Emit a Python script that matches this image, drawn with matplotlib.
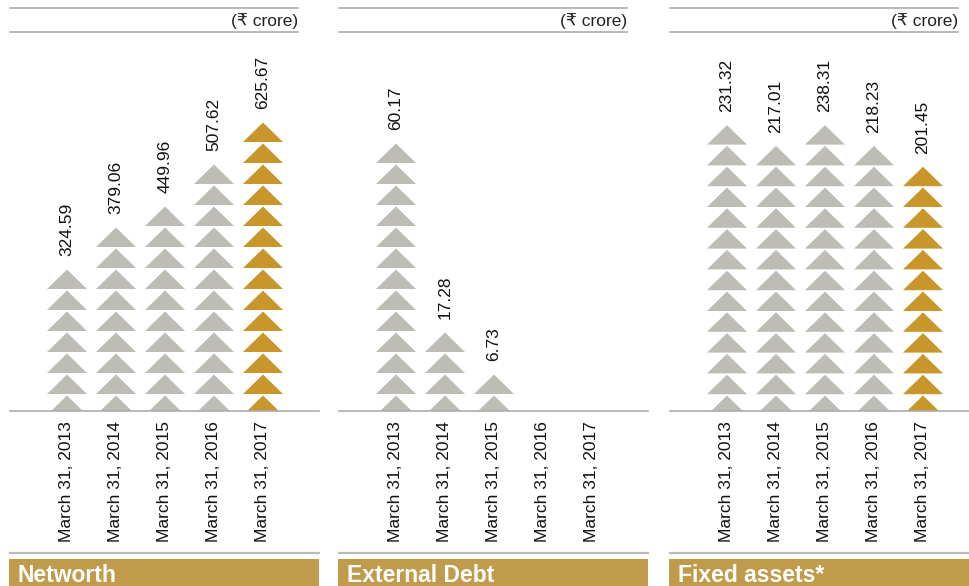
import matplotlib
matplotlib.use("Agg")
import matplotlib.pyplot as plt
from matplotlib.patches import Polygon, Rectangle
from matplotlib.lines import Line2D

plt.rcParams['font.family'] = ['Liberation Sans', 'DejaVu Sans']

# ---- data ----
categories = ["March 31, 2013", "March 31, 2014", "March 31, 2015",
              "March 31, 2016", "March 31, 2017"]
networth = [324.59, 379.06, 449.96, 507.62, 625.67]
external_debt = [60.17, 17.28, 6.73, 0, 0]
fixed_assets = [231.32, 217.01, 238.31, 218.23, 201.45]
titles = ["Networth", "External Debt", "Fixed assets*"]
unit_label = "(\u20b9 crore)"
# value represented by one triangle in each panel
icon_unit = [43.7, 4.47, 16.8]
highlight = [[False, False, False, False, True],
             [False, False, False, False, False],
             [False, False, False, False, True]]

# ---- style ----
W, H = 970, 586
GRAY = "#BDBDB6"
GOLD = "#C8962A"
BOX = "#BF9B4B"
LINE = "#ADADAD"
TXT = "#111111"

fig = plt.figure(figsize=(W / 100, H / 100), dpi=100)

def fx(px):
    return px / W

def fy(py):
    return 1 - py / H

panels = [networth, external_debt, fixed_assets]
lefts = [10, 339, 670]
pitch_px = [21.0, 21.0, 20.8]
base_px = 411
top_px = 40
panel_w = 309
first_off = 57
col_sp = 49
bottom_apex_px = 15.5   # apex of lowest (clipped) triangle above baseline
tri_h_px = 19.5
tri_w_px = 40.0

for k, (vals, L, u, pp) in enumerate(zip(panels, lefts, icon_unit, pitch_px)):
    s = pp / u  # px per value unit
    ax = fig.add_axes([fx(L), fy(base_px), fx(panel_w), (base_px - top_px) / H])
    ax.set_xlim(-first_off / col_sp, (panel_w - first_off) / col_sp)
    ax.set_ylim(0, (base_px - top_px) / s)
    for sp in ["top", "left", "right"]:
        ax.spines[sp].set_visible(False)
    ax.spines["bottom"].set_color(LINE)
    ax.spines["bottom"].set_linewidth(1.2)
    ax.set_yticks([])
    ax.set_xticks(range(len(categories)))
    ax.set_xticklabels(categories, rotation=90, fontsize=12.5, color=TXT,
                       ha="center", va="top")
    ax.tick_params(axis="x", length=0, pad=7)
    ax.patch.set_alpha(0)

    th = tri_h_px / s
    tw = tri_w_px / col_sp
    off = bottom_apex_px / s
    for i, v in enumerate(vals):
        n = int(round(v / u))
        if n <= 0:
            continue
        col = GOLD if highlight[k][i] else GRAY
        for j in range(n):
            y = off + j * u
            tri = Polygon([(i - tw / 2, y - th), (i + tw / 2, y - th), (i, y)],
                          closed=True, facecolor=col, edgecolor="none")
            ax.add_patch(tri)
        top = off + (n - 1) * u
        ax.annotate(f"{v:.2f}", xy=(i, top), xytext=(0, 9.4),
                    textcoords="offset points", rotation=90, ha="center",
                    va="bottom", fontsize=12.5, color=TXT, annotation_clip=False)

    # decorations: top rule lines and unit label
    for yy in (8, 32):
        fig.add_artist(Line2D([fx(L), fx(L + 288)], [fy(yy), fy(yy)],
                              color=LINE, lw=1.2))
    fig.text(fx(L + 288), fy(21), unit_label, ha="right", va="center",
             fontsize=12.5, color="#222222")
    # bottom rule
    fig.add_artist(Line2D([fx(L), fx(L + panel_w)], [fy(553), fy(553)],
                          color="#BBBBBB", lw=1.6))
    # title box
    fig.add_artist(Rectangle((fx(L - 1), 0), fx(panel_w + 1), fy(559),
                             facecolor=BOX, edgecolor="none",
                             transform=fig.transFigure))
    fig.text(fx(L + 8), fy(582), titles[k], ha="left", va="baseline",
             fontsize=16.5, fontweight="bold", color="white")

fig.savefig("out.png", dpi=100)
